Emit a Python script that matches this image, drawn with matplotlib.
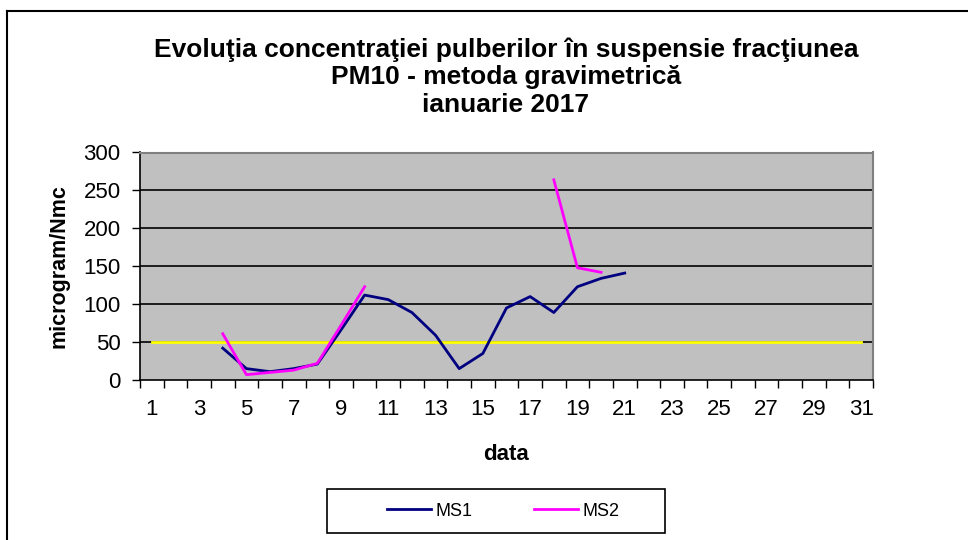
import matplotlib.pyplot as plt
import numpy as np
from matplotlib.lines import Line2D
from matplotlib.patches import Rectangle

plt.rcParams['font.family'] = ['Liberation Sans', 'DejaVu Sans']

zile = np.arange(1, 32)
nan = np.nan
ms1 = [nan, nan, nan, 42, 15, 11, 15, 21, 66, 112, 106, 89, 59, 15, 35, 95, 110, 89, 123, 134, 141,
       nan, nan, nan, nan, nan, nan, nan, nan, nan, nan]
ms2 = [nan, nan, nan, 61, 7, 10, 13, 22, 72, 123, nan, nan, nan, nan, nan, nan, nan, 264, 148, 142, nan,
       nan, nan, nan, nan, nan, nan, nan, nan, nan, nan]
limita = [50] * 31
y_ticks = [0, 50, 100, 150, 200, 250, 300]
x_labels = list(range(1, 32, 2))

fig = plt.figure(figsize=(9.68, 5.4), dpi=100)
ax = fig.add_axes([140/968, 1-380/540, 733/968, 227.5/540])
ax.set_facecolor('#C0C0C0')

# grid lines (black) inside the gray area
ax.hlines(y_ticks[1:-1], 0.5, 31.5, colors='black', linewidth=1.2, zorder=1)

ax.plot(zile, limita, color='#FFFF00', linewidth=2, zorder=2)
ax.plot(zile, ms1, color='#000080', linewidth=2, label='MS1', zorder=3)
ax.plot(zile, ms2, color='#FF00FF', linewidth=2, label='MS2', zorder=4)

ax.set_xlim(0.5, 31.5)
ax.set_ylim(0, 300)
ax.set_yticks(y_ticks)
ax.set_xticks(x_labels)
ax.set_xticks(np.arange(0.5, 32, 1), minor=True)
ax.tick_params(axis='x', which='major', length=0, pad=14, labelsize=16)
ax.tick_params(axis='x', which='minor', length=6, direction='out', width=1)
ax.tick_params(axis='y', length=6, direction='out', width=1, labelsize=16, pad=8)

for s in ['top', 'right']:
    ax.spines[s].set_color('#808080')
    ax.spines[s].set_linewidth(1.5)
for s in ['left', 'bottom']:
    ax.spines[s].set_color('black')
    ax.spines[s].set_linewidth(1.2)

ax.set_ylabel('microgram/Nmc', fontsize=15.5, fontweight='bold', labelpad=10)
ax.set_xlabel('data', fontsize=16, fontweight='bold', labelpad=17)

fig.text(506/968, 1-77/540, 'Evoluţia concentraţiei pulberilor în suspensie fracţiunea\n'
         'PM10 - metoda gravimetrică\nianuarie 2017',
         ha='center', va='center', fontsize=19, fontweight='bold', linespacing=1.18)

leg = fig.legend(*ax.get_legend_handles_labels(), loc='center', bbox_to_anchor=(503/968, 1-511/540),
                 ncol=2, fontsize=13, frameon=False, handlelength=2.45,
                 handletextpad=0.25, columnspacing=3.4, borderpad=0)
fig.add_artist(Rectangle((327/968, 1-533/540), 338/968, 44/540, transform=fig.transFigure,
                         fill=False, edgecolor='black', linewidth=1.2))

# chart border
fig.add_artist(Line2D([7/968, 7/968], [0, 1-11/540], color='black', linewidth=1.5))
fig.add_artist(Line2D([7/968, 1], [1-11/540, 1-11/540], color='black', linewidth=1.5))

fig.savefig('out.png', dpi=100)
